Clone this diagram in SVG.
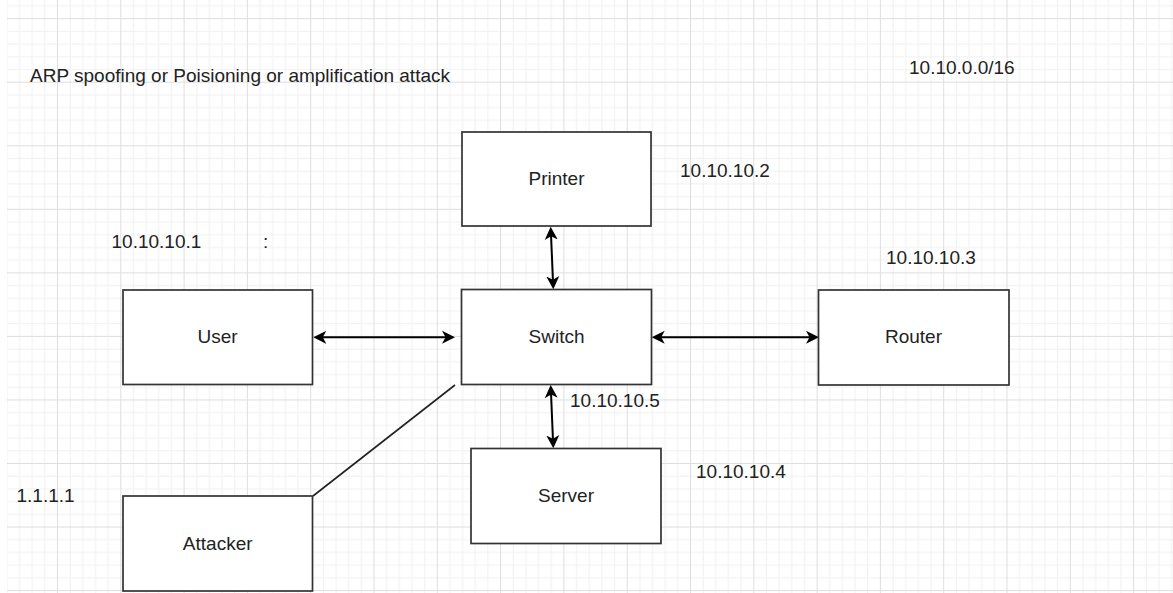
<svg xmlns="http://www.w3.org/2000/svg" width="1173" height="593" viewBox="0 0 1173 593">
  <defs>
    <pattern id="gridPat" patternUnits="userSpaceOnUse" x="57" y="18.15" width="63.3" height="63.55">
      <rect x="12.66" y="0" width="1" height="63.55" fill="#f0f0f0"/>
      <rect x="25.32" y="0" width="1" height="63.55" fill="#f0f0f0"/>
      <rect x="37.98" y="0" width="1" height="63.55" fill="#f0f0f0"/>
      <rect x="50.64" y="0" width="1" height="63.55" fill="#f0f0f0"/>
      <rect x="0" y="12.71" width="63.3" height="1" fill="#f0f0f0"/>
      <rect x="0" y="25.42" width="63.3" height="1" fill="#f0f0f0"/>
      <rect x="0" y="38.13" width="63.3" height="1" fill="#f0f0f0"/>
      <rect x="0" y="50.84" width="63.3" height="1" fill="#f0f0f0"/>
      <rect x="0" y="0" width="1" height="63.55" fill="#dedede"/>
      <rect x="0" y="0" width="63.3" height="1" fill="#dedede"/>
    </pattern>
    <marker id="arrow" markerUnits="userSpaceOnUse" viewBox="0 0 14 14" markerWidth="14" markerHeight="14" refX="10" refY="7" orient="auto-start-reverse">
      <path d="M13,7 L0,0.5 L3.5,7 L0,13.5 Z" fill="#000"/>
    </marker>
    <style>
      .box { fill: #ffffff; stroke: #333333; stroke-width: 1.7; }
      .lbl { font-family: "Liberation Sans", Arial, sans-serif; font-size: 19px; fill: #222222; }
      .mid { text-anchor: middle; }
      .conn { stroke: #000; stroke-width: 2; fill: none; }
      .plain { stroke: #222; stroke-width: 1.6; fill: none; }
    </style>
  </defs>

  <rect x="0" y="0" width="1173" height="593" fill="#ffffff"/>
  <g id="grid">
    <rect x="7" y="0" width="1166" height="593" fill="url(#gridPat)"/>
  </g>

  <g id="texts">
    <text class="lbl" x="30" y="81.5">ARP spoofing or Poisioning or amplification attack</text>
    <text class="lbl" x="909" y="73.5">10.10.0.0/16</text>
    <text class="lbl" x="680" y="176.5">10.10.10.2</text>
    <text class="lbl" x="111.5" y="247.5">10.10.10.1</text>
    <text class="lbl" x="263" y="247.5">:</text>
    <text class="lbl" x="886" y="264">10.10.10.3</text>
    <text class="lbl" x="570" y="406.5">10.10.10.5</text>
    <text class="lbl" x="696" y="477.5">10.10.10.4</text>
    <text class="lbl" x="16.5" y="502">1.1.1.1</text>
  </g>

  <g id="connectors">
    <line class="conn" x1="316.3" y1="337.3" x2="452" y2="337.3" marker-start="url(#arrow)" marker-end="url(#arrow)"/>
    <line class="conn" x1="654.7" y1="337.3" x2="816" y2="337.3" marker-start="url(#arrow)" marker-end="url(#arrow)"/>
    <line class="conn" x1="550.8" y1="229.7" x2="553.2" y2="286.3" marker-start="url(#arrow)" marker-end="url(#arrow)"/>
    <line class="conn" x1="550.8" y1="388" x2="553.2" y2="445.3" marker-start="url(#arrow)" marker-end="url(#arrow)"/>
    <line class="plain" x1="313" y1="496" x2="455" y2="385"/>
  </g>

  <g id="printer">
    <rect class="box" x="462" y="132" width="189" height="94"/>
    <text class="lbl mid" x="556.5" y="184.5">Printer</text>
  </g>
  <g id="user">
    <rect class="box" x="123" y="290" width="189.5" height="94.5"/>
    <text class="lbl mid" x="217.5" y="343.3">User</text>
  </g>
  <g id="switch">
    <rect class="box" x="461.5" y="289.5" width="190" height="95"/>
    <text class="lbl mid" x="556.5" y="343.3">Switch</text>
  </g>
  <g id="router">
    <rect class="box" x="818.5" y="290" width="190.5" height="95"/>
    <text class="lbl mid" x="913.5" y="343.3">Router</text>
  </g>
  <g id="server">
    <rect class="box" x="471" y="448.5" width="190" height="95"/>
    <text class="lbl mid" x="566" y="501.7">Server</text>
  </g>
  <g id="attacker">
    <rect class="box" x="123" y="496" width="189.5" height="95"/>
    <text class="lbl mid" x="217.7" y="550">Attacker</text>
  </g>
</svg>
